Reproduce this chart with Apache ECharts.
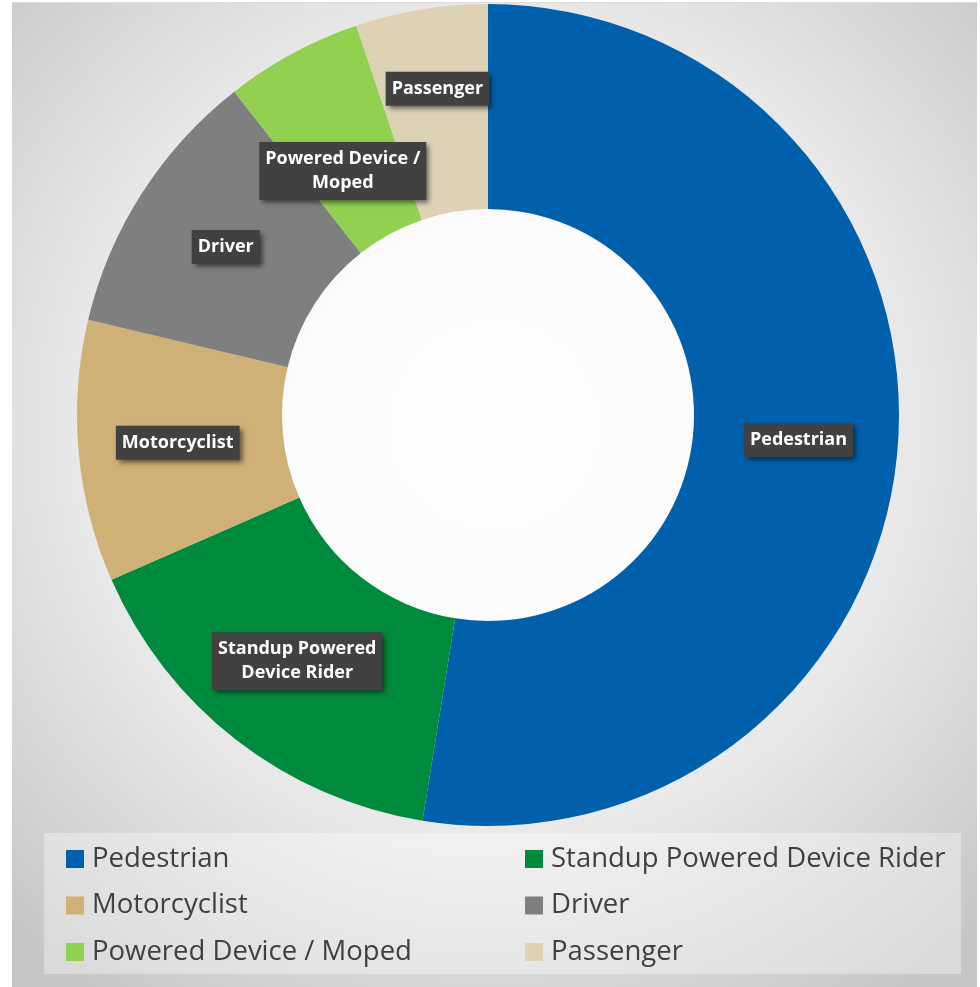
<!DOCTYPE html>
<html lang="en">
<head>
	<meta charset="UTF-8">
	<title>Victims by type</title>
	<script src="https://cdn.jsdelivr.net/npm/echarts@6/dist/echarts.min.js"></script>
	<style>
		* {
			margin: 0;
			padding: 0;
		}
		body {
			background: #fff;
		}
		#container {
			position: absolute;
			left: 12px;
			top: 2px;
			width: 965px;
			height: 985px;
			border-top: 1px solid #dedede;
		}
	</style>
</head>
<body>
<div id="container"></div>
<script type="text/javascript">
	// data (share of total, %)
	var categories = ['Pedestrian', 'Standup Powered Device Rider', 'Motorcyclist', 'Driver', 'Powered Device / Moped', 'Passenger'];
	var values = [52.6, 15.9, 10.3, 10.7, 5.4, 5.2];
	var labelTexts = ['Pedestrian', 'Standup Powered\nDevice Rider', 'Motorcyclist', 'Driver', 'Powered Device /\nMoped', 'Passenger'];
	var colors = ['#0060ac', '#008a3d', '#cfb077', '#7f7f7f', '#92d050', '#ddd1b6'];

	// legend is laid out in two columns, row by row
	var legendLeftCol = ['Pedestrian', 'Motorcyclist', 'Powered Device / Moped'];
	var legendRightCol = ['Standup Powered Device Rider', 'Driver', 'Passenger'];

	// a couple of labels are nudged away from the slice middle, like in the original
	var labelShift = {
		'Passenger': [0, -19],
		'Powered Device / Moped': [3, 30]
	};

	var myChart = echarts.init(document.getElementById('container'));

	var pieData = categories.map(function (name, i) {
		return {
			name: name,
			value: values[i],
			itemStyle: {color: colors[i]},
			label: {formatter: labelTexts[i]}
		};
	});

	var legendText = {
		fontFamily: 'Open Sans',
		fontSize: 27.5,
		color: '#404040',
		lineHeight: 30,
		padding: [0, 0, 0, 3]
	};

	var option = {
		backgroundColor: {
			type: 'radial',
			x: 0.5, y: 0.43, r: 0.72,
			colorStops: [
				{offset: 0, color: '#ffffff'},
				{offset: 0.3, color: '#fbfbfb'},
				{offset: 0.6, color: '#e8e8e8'},
				{offset: 1, color: '#c6c6c6'}
			]
		},
		graphic: [{
			type: 'rect',
			left: 32,
			top: 830,
			shape: {width: 917, height: 141},
			style: {fill: 'rgba(255,255,255,0.35)'},
			z: 0
		}],
		legend: [{
			data: legendLeftCol,
			orient: 'vertical',
			left: 54,
			top: 841,
			padding: 0,
			itemWidth: 18,
			itemHeight: 18,
			itemGap: 16.5,
			icon: 'rect',
			textStyle: legendText
		}, {
			data: legendRightCol,
			orient: 'vertical',
			left: 513,
			top: 841,
			padding: 0,
			itemWidth: 18,
			itemHeight: 18,
			itemGap: 16.5,
			icon: 'rect',
			textStyle: legendText
		}],
		series: [{
			type: 'pie',
			center: [476, 412],
			radius: [206, 411],
			startAngle: 90,
			clockwise: true,
			avoidLabelOverlap: false,
			silent: true,
			label: {
				show: true,
				position: 'inside',
				fontFamily: 'Open Sans',
				fontWeight: 'bold',
				fontSize: 18,
				lineHeight: 24,
				color: '#ffffff',
				align: 'center',
				backgroundColor: '#414141',
				padding: [5, 6],
				shadowColor: 'rgba(0,0,0,0.55)',
				shadowBlur: 5,
				shadowOffsetX: 3,
				shadowOffsetY: 3
			},
			labelLayout: function (params) {
				var s = labelShift[categories[params.dataIndex]];
				if (s) {
					return {dx: s[0], dy: s[1]};
				}
				return {};
			},
			labelLine: {show: false},
			data: pieData
		}]
	};

	myChart.setOption(option);
</script>
</body>
</html>
